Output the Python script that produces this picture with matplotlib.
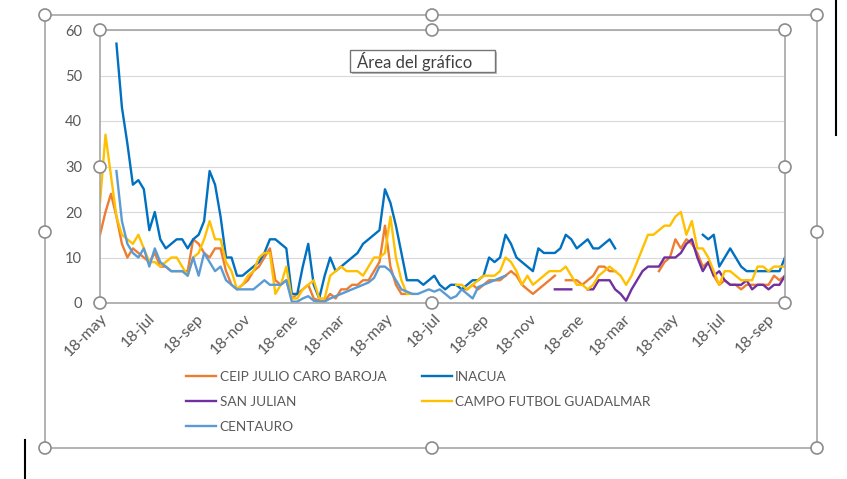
import numpy as np
import pandas as pd
import matplotlib
matplotlib.use("Agg")
import matplotlib.pyplot as plt
from matplotlib.patches import Rectangle, Circle

plt.rcParams['font.family'] = ['Lato', 'DejaVu Sans']

N = None
# weekly samples starting 18-may
start_date = "2020-05-18"
n_weeks = 126

ceip = [15, 20, 24, 19, 13, 10, 12, 11, 10, 9, 11, 8, 8, 7, 7, 7, 7, 14, 13, 11,
        10, 12, 12, 7, 4, 3, 4, 5, 7, 8, 10, 12, 5, 4, 5, 1, 2, 3, 4, 1,
        0.5, 0.5, 2, 1, 3, 3, 4, 4, 5, 5, 7, 9, 17, 8, 4, 2, 2, N, N, N,
        N, N, N, N, N, N, 3, 3, 4, 3, 4, 5, 5, 5, 6, 7, 6, 4, 3, 2,
        3, 4, 5, 6, N, 5, 5, 5, 4, 5, 6, 8, 8, 7, 7, N, N, N, N, N,
        N, N, 7, 9, 10, 14, 12, 14, 13, 11, 8, 9, 6, 4, 5, 4, 4, 3, 4, 4,
        4, 4, 4, 6, 5, 6]

inacua = [N, N, N, 57, 43, 35, 26, 27, 25, 16, 20, 14, 12, 13, 14, 14, 12, 14, 15, 18,
          29, 26, 19, 10, 10, 6, 6, 7, 8, 9, 11, 14, 14, 13, 12, 2, 2, 8, 13, 4,
          1, 6, 10, 7, 8, 9, 10, 11, 13, 14, 15, 16, 25, 22, 17, 11, 5, 5, 5, 4,
          5, 6, 4, 3, 4, 4, 3, 4, 5, 5, 6, 10, 9, 10, 15, 13, 10, 9, 8, 7,
          12, 11, 11, 11, 12, 15, 14, 12, 13, 14, 12, 12, 13, 14, 12, N, N, N, N, N,
          N, N, N, N, N, N, N, N, N, N, 15, 14, 15, 8, 10, 12, 10, 8, 7, 7,
          7, 7, 7, 7, 7, 10]

san_julian = [N] * 83 + [3, 3, 3, 3, N, N, 3, 3, 5, 5, 5, 3, 2, 0.5, 3, 5, 7,
              8, 8, 8, 10, 10, 10, 11, 13, 14, 10, 7, 9, 6, 7, 5, 4, 4, 4, 5, 3,
              4, 4, 3, 4, 4, 6]

guadalmar = [22, 37, 28, 19, 15, 14, 13, 15, 12, 9, 9, 8, 9, 10, 10, 8, 6, 10, 11, 14,
             18, 14, 14, 9, 7, 3, 4, 6, 7, 10, 11, 11, 2, 4, 8, 1, 1, 3, 4, 5,
             1, 1, 6, 7, 8, 7, 7, 7, 6, 8, 10, 10, 11, 19, 10, 5, 2, 2, N, N,
             N, N, N, N, N, 4, 4, 3, 4, 5, 6, 6, 6, 7, 10, 9, 7, 4, 6, 4,
             5, 6, 7, 7, 7, 8, 6, 4, 4, 3, 4, 6, 7, 8, 7, 6, 4, 6, 9, 12,
             15, 15, 16, 17, 17, 19, 20, 15, 18, 12, 12, 10, 7, 4, 7, 7, 6, 5, 5, 5,
             8, 8, 7, 8, 8, 8]

centauro = [N, N, N, 29, 18, 13, 11, 10, 12, 8, 12, 9, 8, 7, 7, 7, 6, 10, 6, 11,
            9, 7, 8, 5, 4, 3, 3, 3, 3, 4, 5, 4, 4, 4, 5, 0.3, 0.3, 1, 1.5, 0.5,
            0.3, 0.3, 1, 1.5, 2, 2.5, 3, 3.5, 4, 4.5, 5.5, 8, 8, 7, 5, 3, 2.5, 2, 2, 2.5,
            3, 2.5, 3, 2, 1, 1.5, 3, 2, 1, 3.5, 4, 4.5, 5, 5.5, 6] + [N] * 51

series_names = ["CEIP JULIO CARO BAROJA", "INACUA", "SAN JULIAN",
                "CAMPO FUTBOL GUADALMAR", "CENTAURO"]
series_values = [ceip, inacua, san_julian, guadalmar, centauro]
colors = ["#ED7D31", "#0070C0", "#7030A0", "#FFC000", "#5B9BD5"]

meses = ["ene", "feb", "mar", "abr", "may", "jun", "jul", "ago", "sep", "oct", "nov", "dic"]

dates = pd.date_range(start_date, periods=n_weeks, freq="7D")
tick_dates = pd.date_range(start_date, periods=15, freq=pd.DateOffset(months=2))
tick_labels = [f"{d.day}-{meses[d.month - 1]}" for d in tick_dates]

W, H = 847, 479
fig = plt.figure(figsize=(W / 100, H / 100), dpi=100)
fig.patch.set_facecolor("white")

ax = fig.add_axes([100 / W, 1 - 303 / H, 685 / W, 273 / H])
for name, vals, c in zip(series_names, series_values, colors):
    y = np.array([np.nan if v is None else v for v in vals], dtype=float)
    ax.plot(dates, y, color=c, lw=1.7, label=name, solid_joinstyle="round")

ax.set_xlim(dates[0], dates[-1])
ax.set_ylim(0, 60)
ax.set_yticks(range(0, 61, 10))
ax.yaxis.grid(True, color="#D9D9D9", lw=0.8)
ax.set_axisbelow(True)
for s in ax.spines.values():
    s.set_visible(False)
ax.set_xticks(tick_dates)
ax.set_xticklabels(tick_labels, rotation=45, ha="right", rotation_mode="anchor")
ax.tick_params(axis="both", length=0, colors="#595959")
ax.tick_params(axis="y", pad=13, labelsize=10.5)
ax.tick_params(axis="x", pad=6, labelsize=11.5)

handles, labels = ax.get_legend_handles_labels()
order = [0, 2, 4, 1, 3]
fig.legend([handles[i] for i in order], [labels[i] for i in order],
           loc="upper left", bbox_to_anchor=(174 / W, 1 - 359 / H), ncol=2,
           frameon=False, fontsize=9.8, handlelength=2.2, handletextpad=0.25,
           columnspacing=2.6, labelspacing=0.95, labelcolor="#595959")

# Excel selection frames and handles
ov = fig.add_axes([0, 0, 1, 1], zorder=10)
ov.set_xlim(0, W)
ov.set_ylim(H, 0)
ov.axis("off")
ov.patch.set_alpha(0)
ov.add_patch(Rectangle((45, 15), 772, 433, fill=False, ec="#A6A6A6", lw=1.2))
ov.add_patch(Rectangle((100, 30), 685, 273, fill=False, ec="#A6A6A6", lw=1.2))
for cx, cy in [(45, 15), (432, 15), (817, 15), (45, 232), (817, 232),
               (45, 448), (432, 448), (817, 448),
               (100, 30), (432, 30), (785, 30), (100, 167), (785, 167),
               (100, 303), (432, 303), (785, 303)]:
    ov.add_patch(Circle((cx, cy), 6, fc="white", ec="#8C8C8C", lw=1.2))
ov.plot([836, 836], [0, 135], color="black", lw=1.5)
ov.plot([25, 25], [440, 479], color="black", lw=1.5)

ov.add_patch(Rectangle((352, 52), 145, 22, fc="#BFBFBF", ec="none"))
ov.add_patch(Rectangle((350, 50), 145, 22, fc="white", ec="#767676", lw=1))
ov.text(357, 61.5, "Área del gráfico", fontsize=12, color="#404040", va="center")

fig.savefig("out.png", dpi=100)
